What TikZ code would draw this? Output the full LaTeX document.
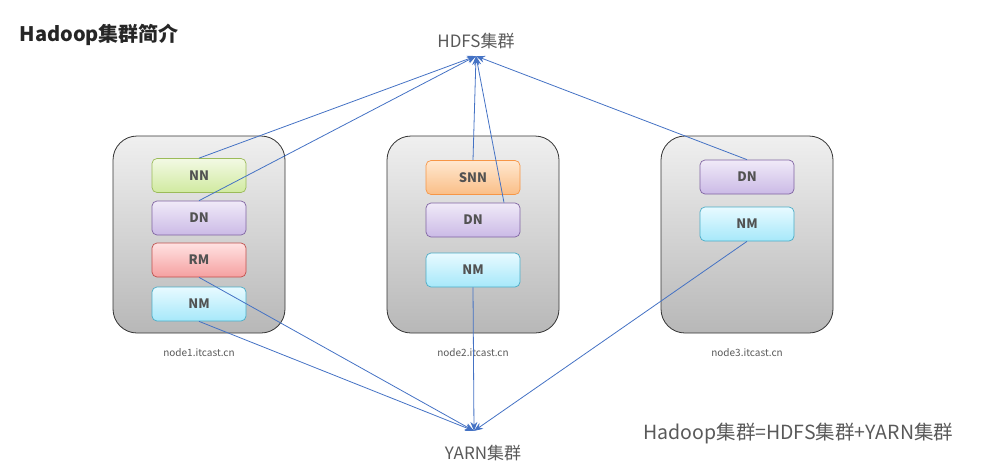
\documentclass[tikz,border=0pt]{standalone}
\usepackage{fontspec}
\setmainfont{Noto Sans CJK SC}
\usetikzlibrary{arrows.meta}
\definecolor{linkblue}{RGB}{68,114,196}
\definecolor{txtgray}{RGB}{89,89,89}
\tikzset{
  host/.style={draw=black!80, line width=0.8pt, rounded corners=24pt,
    top color=black!6, bottom color=black!28,
    minimum width=172pt, minimum height=197pt, inner sep=0pt},
  role/.style={line width=0.7pt, rounded corners=5pt, inner sep=0pt,
    minimum width=94pt, minimum height=34pt, text=black!68,
    font=\fontsize{13}{13}\selectfont\bfseries},
  nn/.style={role, draw={rgb,255:red,155;green,187;blue,89}, top color={rgb,255:red,242;green,249;blue,228}, bottom color={rgb,255:red,208;green,234;blue,160}},
  dn/.style={role, draw={rgb,255:red,128;green,100;blue,162}, top color={rgb,255:red,240;green,234;blue,248}, bottom color={rgb,255:red,203;green,186;blue,230}},
  rm/.style={role, draw={rgb,255:red,192;green,80;blue,77}, top color={rgb,255:red,255;green,226;blue,226}, bottom color={rgb,255:red,245;green,160;blue,160}},
  nm/.style={role, draw={rgb,255:red,75;green,172;blue,198}, top color={rgb,255:red,232;green,250;blue,255}, bottom color={rgb,255:red,166;green,232;blue,250}},
  snn/.style={role, draw={rgb,255:red,247;green,150;blue,70}, top color={rgb,255:red,255;green,232;blue,208}, bottom color={rgb,255:red,250;green,190;blue,135}},
  hostname/.style={text=txtgray, font=\fontsize{10}{10}\selectfont},
  cluster/.style={text=txtgray, font=\fontsize{17}{17}\selectfont},
  link/.style={draw=linkblue, line width=0.8pt, -{Stealth[length=9pt,width=7pt]}}
}
\begin{document}
\begin{tikzpicture}[x=1pt,y=-1pt]
\useasboundingbox (0,0) rectangle (991,475);
\node[anchor=west, font=\fontsize{20}{20}\selectfont\bfseries, text=black!85] (title) at (16,35) {Hadoop集群简介};

% the three hosts
\foreach \i/\x in {1/199, 2/473, 3/747} {
  \node[host] (host\i) at (\x,234.5) {};
  \node[hostname] (name\i) at (\x,353) {node\i.itcast.cn};
}

% roles
\node[nn] (nna) at (199,175.5) {NN};
\node[dn] (dna) at (199,218) {DN};
\node[rm] (rma) at (199,260) {RM};
\node[nm] (nma) at (199,304) {NM};
\node[snn] (snnb) at (473,177.5) {SNN};
\node[dn] (dnb) at (473,220) {DN};
\node[nm] (nmb) at (473,270) {NM};
\node[dn] (dnc) at (747,177) {DN};
\node[nm] (nmc) at (747,224) {NM};

% clusters
\node[cluster, inner ysep=7pt] (hdfs) at (476,41) {HDFS集群};
\node[cluster, inner ysep=14pt, inner xsep=0pt] (yarn) at (483,453) {YARN集群};
\node[cluster, anchor=west, font=\fontsize{19.5}{19.5}\selectfont] (sum) at (640,434) {Hadoop集群=HDFS集群+YARN集群};

\coordinate (hdfsin) at (hdfs.south -| 476,0);
\coordinate (yarnin) at (yarn.north -| 474,0);
\foreach \r in {nna, dna, snnb, dnc}
  \draw[link] (\r.north) -- (hdfsin);
\draw[link] ([xshift=31pt]dnb.north) -- (hdfsin);
\foreach \r in {rma, nma, nmb, nmc}
  \draw[link] (\r.south) -- (yarnin);
\end{tikzpicture}
\end{document}
